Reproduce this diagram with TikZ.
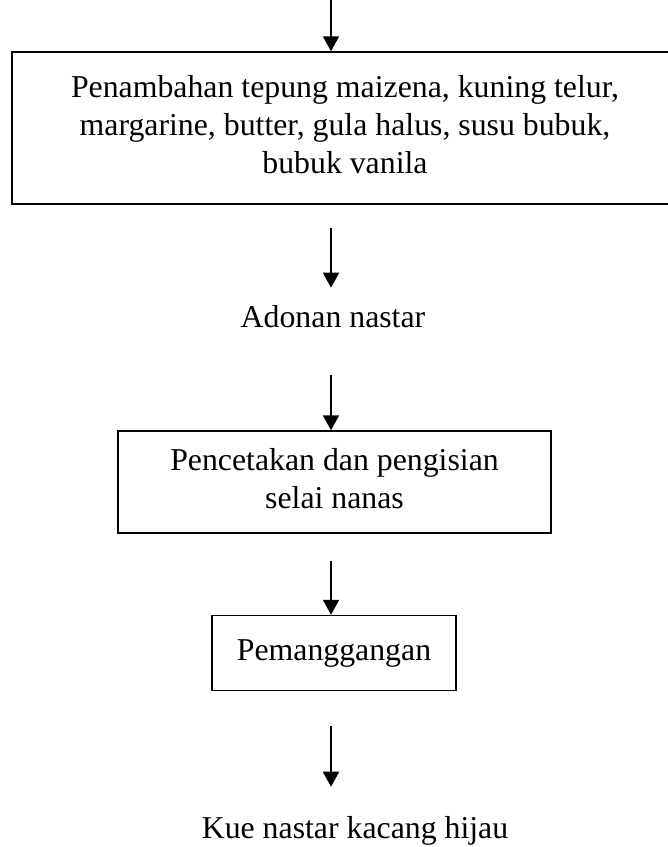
\documentclass[tikz,border=0pt]{standalone}
\usepackage{fontspec}
\setmainfont{Liberation Serif}
\usetikzlibrary{arrows.meta,backgrounds}
\pgfdeclarelayer{edgelayer}
\pgfdeclarelayer{nodelayer}
\pgfsetlayers{edgelayer,nodelayer,main}
\tikzset{font=\fontsize{31.8}{38}\selectfont}
\tikzstyle{none}=[inner sep=0pt]
\tikzstyle{stepbox}=[draw,line width=1.5pt,align=center,inner sep=0pt]
\tikzstyle{flow}=[line width=2pt,-{Triangle[length=15pt,width=16pt]}]

\begin{document}
\begin{tikzpicture}[x=1pt,y=-1pt]
	\useasboundingbox (0,0) rectangle (668,847);
	\begin{pgfonlayer}{nodelayer}
		\coordinate (start) at (331,0);
		\node [style=stepbox,minimum width=666,minimum height=152] (mix) at (345,128)
			{\strut Penambahan tepung maizena, kuning telur,\\margarine, butter, gula halus, susu bubuk,\\bubuk vanila\strut};
		\node [style=none,anchor=base] (dough) at (333,327) {Adonan nastar};
		\node [style=stepbox,minimum width=433,minimum height=102] (mold) at (334.5,482)
			{\strut Pencetakan dan pengisian\\selai nanas\strut};
		\node [style=stepbox,minimum width=244,minimum height=75] (bake) at (334,653)
			{\strut Pemanggangan};
		\node [style=none,anchor=base] (cake) at (355,838) {Kue nastar kacang hijau};
	\end{pgfonlayer}
	\begin{pgfonlayer}{edgelayer}
		\draw [style=flow] (start) to (start |- mix.north);
		\draw [style=flow,shorten <=23pt,shorten >=17pt] (mix.south -| start) to (start |- dough.north);
		\draw [style=flow,shorten <=47pt] (start |- dough.south) to (start |- mold.north);
		\draw [style=flow,shorten <=27pt] (start |- mold.south) to (start |- bake.north);
		\draw [style=flow,shorten <=35pt,shorten >=29pt] (start |- bake.south) to (start |- cake.north);
	\end{pgfonlayer}
\end{tikzpicture}
\end{document}
